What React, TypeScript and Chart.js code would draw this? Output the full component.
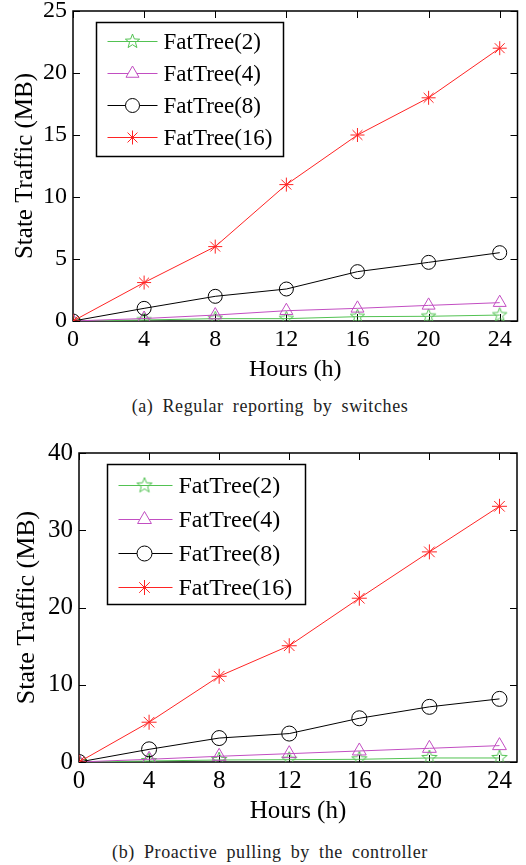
import React, { useEffect, useRef } from "react";
import { Chart, registerables } from "chart.js";
import { drawPoint } from "chart.js/helpers";

Chart.register(...registerables);

const hours = [0, 4, 8, 12, 16, 20, 24];
const xTickValues = [0, 4, 8, 12, 16, 20, 24];
const seriesNames = ["FatTree(2)", "FatTree(4)", "FatTree(8)", "FatTree(16)"];

// (a) Regular reporting by switches
const ft2A = [0, 0.08, 0.19, 0.19, 0.35, 0.38, 0.48];
const ft4A = [0, 0.2, 0.48, 0.83, 1.02, 1.26, 1.48];
const ft8A = [0, 1.02, 1.99, 2.58, 3.98, 4.73, 5.51];
const ft16A = [0, 3.1, 6, 11, 15, 18, 22];
const yTicksA = [0, 5, 10, 15, 20, 25];

// (b) Proactive pulling by the controller
const ft2B = [0, 0.13, 0.26, 0.3, 0.35, 0.52, 0.52];
const ft4B = [0, 0.35, 0.74, 1.08, 1.43, 1.77, 2.12];
const ft8B = [0, 1.64, 3.1, 3.68, 5.66, 7.14, 8.17];
const ft16B = [0, 5.15, 11.1, 15.05, 21.2, 27.2, 33.1];
const yTicksB = [0, 10, 20, 30, 40];

const xMax = 25;
const xTitle = "Hours (h)";
const yTitle = "State Traffic (MB)";
const captionA = "(a) Regular reporting by switches";
const captionB = "(b) Proactive pulling by the controller";

const GREEN = "#52c252";
const MAGENTA = "#c24ec2";
const BLACK = "#000000";
const RED = "#ff2424";
const FONT = '"Liberation Serif", "Times New Roman", serif';

function makeStar(color: string, r: number): HTMLCanvasElement {
  const size = Math.ceil(2 * r + 4);
  const c = document.createElement("canvas");
  c.width = size;
  c.height = size;
  const ctx = c.getContext("2d")!;
  const cx = size / 2;
  const cy = size / 2;
  const inner = r * 0.42;
  ctx.beginPath();
  for (let i = 0; i < 10; i++) {
    const rr = i % 2 === 0 ? r : inner;
    const ang = -Math.PI / 2 + (i * Math.PI) / 5;
    const px = cx + rr * Math.cos(ang);
    const py = cy + rr * Math.sin(ang);
    if (i === 0) ctx.moveTo(px, py);
    else ctx.lineTo(px, py);
  }
  ctx.closePath();
  ctx.strokeStyle = color;
  ctx.lineWidth = 1;
  ctx.stroke();
  return c;
}

type Spec = {
  data: number[][];
  yTicks: number[];
  yWidth: number;
  padTop: number;
  padRight: number;
  xHeight: number;
  tickFont: number;
  xTitleFont: number;
  yTitleFont: number;
  yTitlePad: number;
  xTitlePad: number;
  xTickPad: number;
  yTickPad: number;
  markerR: number;
  legend: {
    dx: number;
    dy: number;
    w: number;
    h: number;
    first: number;
    rowH: number;
    lx0: number;
    lx1: number;
    mx: number;
    tx: number;
    font: number;
  };
};

function buildChart(canvas: HTMLCanvasElement, spec: Spec) {
  const colors = [GREEN, MAGENTA, BLACK, RED];
  const r = spec.markerR;
  const styles: any[] = [makeStar(GREEN, r + 0.5), "triangle", "circle", "star"];

  const datasets = spec.data.map((vals, i) => ({
    label: seriesNames[i],
    data: vals.map((v, j) => ({ x: hours[j], y: v })),
    borderColor: colors[i],
    backgroundColor: "rgba(0,0,0,0)",
    pointBackgroundColor: "rgba(0,0,0,0)",
    pointBorderColor: colors[i],
    pointStyle: styles[i],
    pointRadius: i === 1 ? r + 0.5 : r,
    pointBorderWidth: 1,
    borderWidth: 1,
    tension: 0,
    order: 3 - i,
  }));

  const frameTicks = {
    id: "frameTicks",
    beforeDatasetsDraw(chart: any) {
      const { ctx, chartArea } = chart;
      const { left, right, top, bottom } = chartArea;
      const xs = chart.scales.x;
      const ys = chart.scales.y;
      const tl = 7;
      ctx.save();
      ctx.strokeStyle = "#000";
      ctx.lineWidth = 1;
      ctx.beginPath();
      xs.ticks.forEach((t: any) => {
        const px = Math.round(xs.getPixelForValue(t.value)) + 0.5;
        ctx.moveTo(px, bottom);
        ctx.lineTo(px, bottom - tl);
        ctx.moveTo(px, top);
        ctx.lineTo(px, top + tl);
      });
      ys.ticks.forEach((t: any) => {
        const py = Math.round(ys.getPixelForValue(t.value)) + 0.5;
        ctx.moveTo(left, py);
        ctx.lineTo(left + tl, py);
        ctx.moveTo(right, py);
        ctx.lineTo(right - tl, py);
      });
      ctx.stroke();
      ctx.lineWidth = 1.5;
      ctx.strokeRect(left, top, right - left, bottom - top);
      ctx.restore();
    },
  };

  const L = spec.legend;
  const boxLegend = {
    id: "boxLegend",
    afterDraw(chart: any) {
      const { ctx, chartArea } = chart;
      const bx = Math.round(chartArea.left + L.dx) + 0.5;
      const by = Math.round(chartArea.top + L.dy) + 0.5;
      ctx.save();
      ctx.fillStyle = "#ffffff";
      ctx.fillRect(bx, by, L.w, L.h);
      ctx.strokeStyle = "#000";
      ctx.lineWidth = 1.5;
      ctx.strokeRect(bx, by, L.w, L.h);
      chart.data.datasets.forEach((ds: any, i: number) => {
        const y = by + L.first + i * L.rowH;
        ctx.strokeStyle = ds.borderColor;
        ctx.lineWidth = 1;
        ctx.beginPath();
        ctx.moveTo(bx + L.lx0, y);
        ctx.lineTo(bx + L.lx1, y);
        ctx.stroke();
        ctx.fillStyle = "#ffffff";
        ctx.strokeStyle = ds.pointBorderColor;
        ctx.lineWidth = 1;
        drawPoint(
          ctx,
          { pointStyle: ds.pointStyle, radius: ds.pointRadius, rotation: 0, borderWidth: 1 } as any,
          bx + L.mx,
          y
        );
        ctx.fillStyle = "#000";
        ctx.font = `${L.font}px ${FONT}`;
        ctx.textBaseline = "middle";
        ctx.textAlign = "left";
        ctx.fillText(ds.label, bx + L.tx, y + 1);
      });
      ctx.restore();
    },
  };

  const yMax = spec.yTicks[spec.yTicks.length - 1];
  const yStep = spec.yTicks[1] - spec.yTicks[0];

  return new Chart(canvas, {
    type: "line",
    data: { datasets },
    options: {
      animation: false,
      responsive: false,
      devicePixelRatio: 1,
      layout: { padding: { top: spec.padTop, right: spec.padRight, left: 0, bottom: 0 } },
      plugins: { legend: { display: false }, tooltip: { enabled: false } },
      scales: {
        x: {
          type: "linear",
          min: 0,
          max: xMax,
          ticks: {
            stepSize: 4,
            color: "#000",
            font: { family: FONT, size: spec.tickFont },
            padding: spec.xTickPad,
            maxRotation: 0,
          },
          afterBuildTicks: (s: any) => {
            s.ticks = xTickValues.map((v) => ({ value: v }));
          },
          grid: { display: false, drawTicks: false },
          border: { display: false },
          title: {
            display: true,
            text: xTitle,
            color: "#000",
            font: { family: FONT, size: spec.xTitleFont },
            padding: { top: 0, bottom: spec.xTitlePad },
          },
          afterFit: (s: any) => {
            s.height = spec.xHeight;
            s.paddingLeft = 0;
            s.paddingRight = 0;
          },
        },
        y: {
          type: "linear",
          min: 0,
          max: yMax,
          ticks: {
            stepSize: yStep,
            color: "#000",
            font: { family: FONT, size: spec.tickFont },
            padding: spec.yTickPad,
          },
          grid: { display: false, drawTicks: false },
          border: { display: false },
          title: {
            display: true,
            text: yTitle,
            color: "#000",
            font: { family: FONT, size: spec.yTitleFont },
            padding: { top: spec.yTitlePad, bottom: 0 },
          },
          afterFit: (s: any) => {
            s.width = spec.yWidth;
            s.paddingTop = 0;
            s.paddingBottom = 0;
          },
        },
      },
    } as any,
    plugins: [frameTicks, boxLegend],
  });
}

const specA: Spec = {
  data: [ft2A, ft4A, ft8A, ft16A],
  yTicks: yTicksA,
  yWidth: 73,
  padTop: 11,
  padRight: 5,
  xHeight: 69,
  tickFont: 24,
  xTitleFont: 24,
  yTitleFont: 25,
  yTitlePad: 10,
  xTitlePad: 6,
  xTickPad: 4,
  yTickPad: 6,
  markerR: 7,
  legend: { dx: 23, dy: 11, w: 187, h: 134, first: 19, rowH: 32, lx0: 11, lx1: 61, mx: 36, tx: 67, font: 23 },
};

const specB: Spec = {
  data: [ft2B, ft4B, ft8B, ft16B],
  yTicks: yTicksB,
  yWidth: 79,
  padTop: 13,
  padRight: 5,
  xHeight: 68,
  tickFont: 25,
  xTitleFont: 25,
  yTitleFont: 26,
  yTitlePad: 12,
  xTitlePad: 4,
  xTickPad: 4,
  yTickPad: 6,
  markerR: 7.5,
  legend: { dx: 28, dy: 11, w: 198, h: 140, first: 21, rowH: 34, lx0: 11, lx1: 65, mx: 37, tx: 71, font: 24 },
};

function ChartBox({ spec, top }: { spec: Spec; top: number }) {
  const ref = useRef<HTMLCanvasElement | null>(null);
  useEffect(() => {
    if (!ref.current) return;
    const ch = buildChart(ref.current, spec);
    return () => ch.destroy();
  }, [spec]);
  return (
    <canvas
      ref={ref}
      width={526}
      height={390}
      style={{ position: "absolute", left: 0, top, width: 526, height: 390 }}
    />
  );
}

const captionStyle: React.CSSProperties = {
  position: "absolute",
  left: 0,
  width: 540,
  textAlign: "center",
  fontFamily: FONT,
  fontSize: 18,
  lineHeight: "24px",
  letterSpacing: "0.6px",
  wordSpacing: "4px",
  color: "#222",
  whiteSpace: "nowrap",
};

export default function App() {
  useEffect(() => {
    document.body.style.margin = "0";
  }, []);
  return (
    <div style={{ position: "relative", width: 526, height: 865, background: "#fff", overflow: "hidden" }}>
      <ChartBox spec={specA} top={0} />
      <div style={{ ...captionStyle, top: 394 }}>{captionA}</div>
      <ChartBox spec={specB} top={440} />
      <div style={{ ...captionStyle, top: 840 }}>{captionB}</div>
    </div>
  );
}
